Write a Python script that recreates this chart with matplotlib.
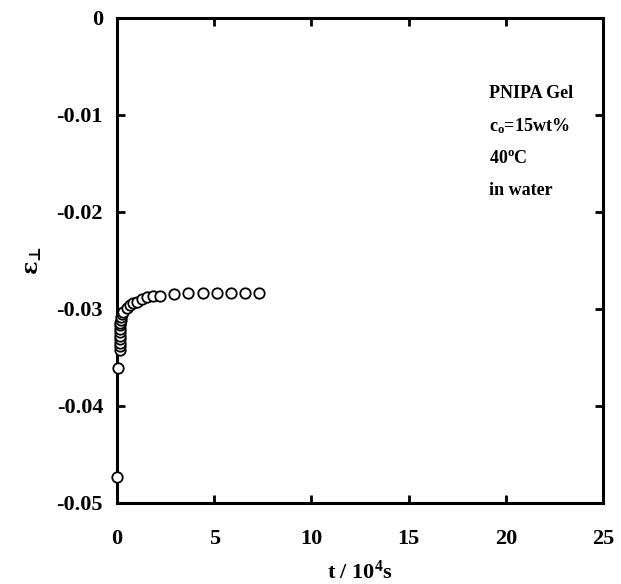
import matplotlib
matplotlib.use("Agg")
import matplotlib.pyplot as plt

# data: time (10^4 s) and strain
t_vals = [0.0, 0.07, 0.15, 0.15, 0.15, 0.15, 0.15, 0.15, 0.16, 0.17, 0.18, 0.2, 0.22, 0.25,
          0.33, 0.5, 0.67, 0.84, 1.01, 1.27, 1.53, 1.87, 2.21, 2.94, 3.66, 4.4, 5.13, 5.86, 6.58, 7.32]
eps_vals = [-0.0473, -0.0361, -0.0342, -0.0338, -0.0335, -0.0331, -0.0328, -0.0324, -0.0321, -0.0317,
            -0.0314, -0.0311, -0.0308, -0.0305, -0.0303, -0.0299, -0.0296, -0.0294, -0.02924, -0.0290,
            -0.0288, -0.02866, -0.02862, -0.02845, -0.0284, -0.02838, -0.02838, -0.02838, -0.02838, -0.02838]

x_ticks = [0, 5, 10, 15, 20, 25]
y_ticks = [0, -0.01, -0.02, -0.03, -0.04, -0.05]
y_tick_labels = ["0", "-0.01", "-0.02", "-0.03", "-0.04", "-0.05"]
annot_lines = ["PNIPA Gel", "c$_\\mathregular{o}$=15wt%", "40$^\\mathregular{o}$C", "in water"]

plt.rcParams['font.family'] = ['Liberation Serif', 'DejaVu Serif']
plt.rcParams['font.weight'] = 'bold'
plt.rcParams['mathtext.fontset'] = 'custom'
plt.rcParams['mathtext.rm'] = 'Liberation Serif:bold'
plt.rcParams['mathtext.it'] = 'Liberation Serif:bold'
plt.rcParams['mathtext.bf'] = 'Liberation Serif:bold'

fig = plt.figure(figsize=(6.21, 5.84), dpi=100)
ax = fig.add_axes([0.1884, 0.1387, 0.9710 - 0.1884, 0.9692 - 0.1387])

ax.plot(t_vals, eps_vals, linestyle='none', marker='o', markersize=7.5,
        markerfacecolor='white', markeredgecolor='black', markeredgewidth=1.3, clip_on=False, zorder=3)

ax.set_xlim(0, 25)
ax.set_ylim(-0.05, 0)
ax.set_xticks(x_ticks)
ax.set_xticklabels([str(v) for v in x_ticks])
ax.set_yticks(y_ticks)
ax.set_yticklabels(y_tick_labels)

for s in ax.spines.values():
    s.set_linewidth(2.2)
ax.tick_params(direction='in', length=6, width=2, top=True, right=True, labelsize=16)
ax.tick_params(axis='x', pad=19)
ax.tick_params(axis='y', pad=10)
for lab in ax.get_xticklabels() + ax.get_yticklabels():
    lab.set_fontweight('bold')

ax.set_xlabel("t / 10$^\\mathregular{4}$s", fontsize=16, fontweight='bold', labelpad=8)
ax.set_ylabel("ε$_\\mathregular{⊥}$", fontsize=16, fontweight='bold', labelpad=10,
              family=['DejaVu Serif'])

y0 = 0.845
for i, line in enumerate(annot_lines):
    ax.text(0.765, y0 - i * 0.067, line, transform=ax.transAxes, fontsize=13,
            fontweight='bold', va='center', ha='left')

fig.savefig("out.png", dpi=100)
